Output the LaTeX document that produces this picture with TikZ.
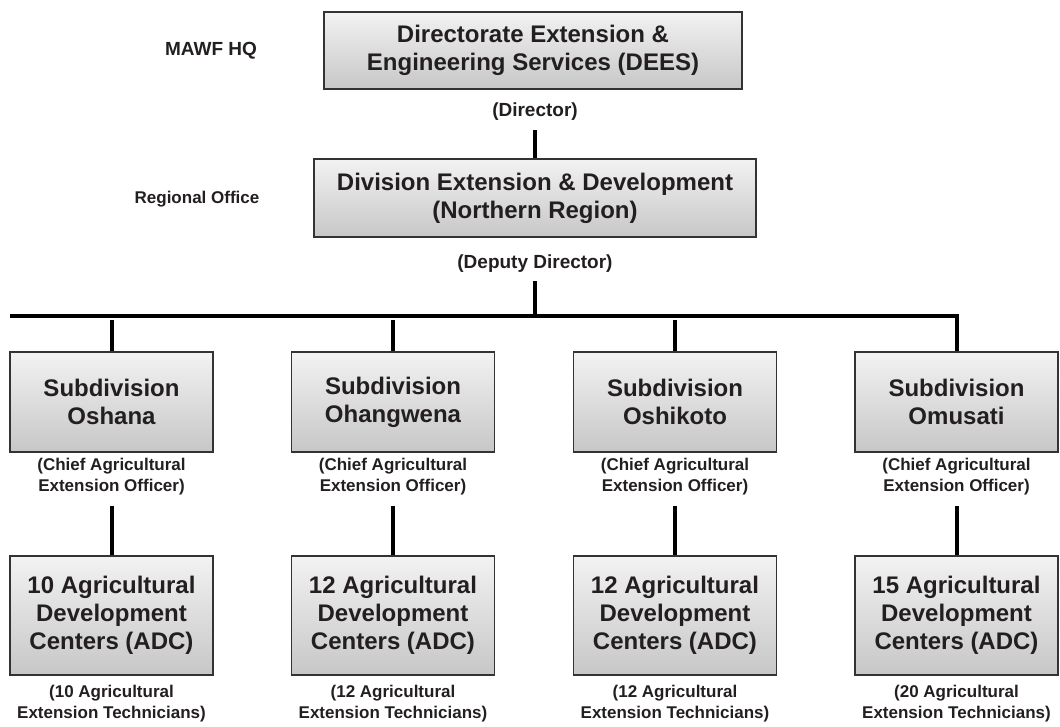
\documentclass[tikz,border=0pt]{standalone}
\usepackage{fontspec}
\setmainfont{Liberation Sans}
\definecolor{inkgray}{HTML}{231F20}

\begin{document}
\begin{tikzpicture}[x=1pt, y=-1pt,
    box/.style={draw=black!80, line width=1.2pt, top color=black!5, bottom color=black!22,
        text=inkgray, align=center, inner sep=0pt, font=\bfseries\fontsize{24}{28}\selectfont},
    note/.style={text=inkgray, align=center, inner sep=1pt, font=\bfseries\fontsize{17}{21}\selectfont},
    bignote/.style={note, font=\bfseries\fontsize{19}{23}\selectfont},
    link/.style={line width=4pt, black}]
    \useasboundingbox (0,0) rectangle (1060,726);
    % levels
    \node[bignote] (hq) at (211, 51) {MAWF HQ};
    \node[note] (reg) at (197, 199) {Regional Office};
    % head office
    \node[box, minimum width=418pt, minimum height=77pt] (dees) at (533, 50.5) {Directorate Extension \&\\Engineering Services (DEES)};
    \node[bignote] (dirnote) at (535, 112) {(Director)};
    \node[box, minimum width=442pt, minimum height=78pt] (ded) at (535, 198) {Division Extension \& Development\\(Northern Region)};
    \node[bignote] (depnote) at (535, 264) {(Deputy Director)};
    % subdivisions
    \node[box, minimum width=203pt, minimum height=100pt] (sub1) at (111.5, 402) {Subdivision\\Oshana};
    \node[box, minimum width=203pt, minimum height=100pt] (sub2) at (393, 402) {Subdivision\\Ohangwena};
    \node[box, minimum width=203pt, minimum height=100pt] (sub3) at (675, 402) {Subdivision\\Oshikoto};
    \node[box, minimum width=203pt, minimum height=100pt] (sub4) at (956.5, 402) {Subdivision\\Omusati};
    \node[note] (ceo1) at (111.5, 477) {(Chief Agricultural\\Extension Officer)};
    \node[note] (ceo2) at (393, 477) {(Chief Agricultural\\Extension Officer)};
    \node[note] (ceo3) at (675, 477) {(Chief Agricultural\\Extension Officer)};
    \node[note] (ceo4) at (956.5, 477) {(Chief Agricultural\\Extension Officer)};
    % development centers
    \node[box, minimum width=203pt, minimum height=119pt] (adc1) at (111.5, 615.5) {10 Agricultural\\Development\\Centers (ADC)};
    \node[box, minimum width=203pt, minimum height=119pt] (adc2) at (393, 615.5) {12 Agricultural\\Development\\Centers (ADC)};
    \node[box, minimum width=203pt, minimum height=119pt] (adc3) at (675, 615.5) {12 Agricultural\\Development\\Centers (ADC)};
    \node[box, minimum width=203pt, minimum height=119pt] (adc4) at (956.5, 615.5) {15 Agricultural\\Development\\Centers (ADC)};
    \node[note] (tech1) at (111.5, 704) {(10 Agricultural\\Extension Technicians)};
    \node[note] (tech2) at (393, 704) {(12 Agricultural\\Extension Technicians)};
    \node[note] (tech3) at (675, 704) {(12 Agricultural\\Extension Technicians)};
    \node[note] (tech4) at (956.5, 704) {(20 Agricultural\\Extension Technicians)};
    % connectors
    \coordinate (busL) at (10, 316);
    \coordinate (tap) at (0, 320);
    \draw[link] (dirnote.south) ++(0,8) -- (ded.north);
    \draw[link] (depnote.south) ++(0,7) -- (ded.north |- busL);
    \draw[link] (busL) -- (sub4.north |- busL) -- (sub4.north);
    \draw[link] (sub1.north |- tap) -- (sub1.north);
    \draw[link] (sub2.north |- tap) -- (sub2.north);
    \draw[link] (sub3.north |- tap) -- (sub3.north);
    \draw[link] (ceo1.south) ++(0,9) -- (adc1.north);
    \draw[link] (ceo2.south) ++(0,9) -- (adc2.north);
    \draw[link] (ceo3.south) ++(0,9) -- (adc3.north);
    \draw[link] (ceo4.south) ++(0,9) -- (adc4.north);
\end{tikzpicture}
\end{document}
